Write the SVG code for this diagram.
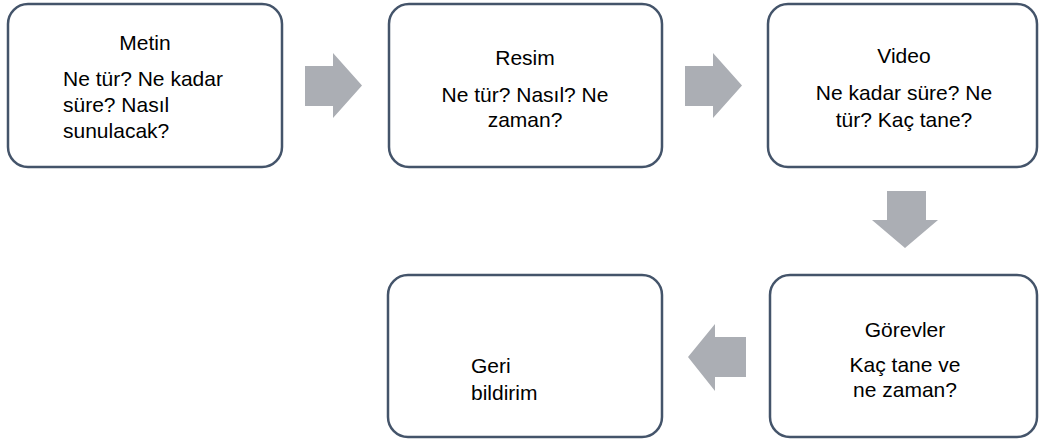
<svg xmlns="http://www.w3.org/2000/svg" width="1039" height="443" viewBox="0 0 1039 443">
<style>
.box{fill:#ffffff;stroke:#44546A;stroke-width:2.5}
.arr{fill:#ABAEB4}
text{font-family:"Liberation Sans",Arial,sans-serif;font-size:21px;fill:#000000}
.c{text-anchor:middle}
</style>
<rect width="1039" height="443" fill="#ffffff"/>
<g id="connectors">
<polygon class="arr" points="305,66 333,66 333,53 362,85.5 333,118 333,106 305,106"/>
<polygon class="arr" points="685,66 713,66 713,53 742,85.5 713,118 713,106 685,106"/>
<polygon class="arr" points="887,191 926,191 926,220 938,220 905,248 872,220 887,220"/>
<polygon class="arr" points="746,337 715,337 715,324 688,357 715,391 715,377 746,377"/>
</g>
<g id="metin">
<rect class="box" x="8" y="4" width="274" height="163" rx="20"/>
<text class="c" x="145" y="50">Metin</text>
<text x="63" y="86">Ne tür? Ne kadar</text>
<text x="63" y="112">süre? Nasıl</text>
<text x="63" y="138">sunulacak?</text>
</g>
<g id="resim">
<rect class="box" x="389" y="4" width="273" height="163" rx="20"/>
<text class="c" x="525" y="65">Resim</text>
<text class="c" x="525" y="102">Ne tür? Nasıl? Ne</text>
<text class="c" x="525" y="127">zaman?</text>
</g>
<g id="video">
<rect class="box" x="768" y="4" width="269" height="163" rx="20"/>
<text class="c" x="904" y="63">Video</text>
<text class="c" x="904" y="100">Ne kadar süre? Ne</text>
<text class="c" x="904" y="127">tür? Kaç tane?</text>
</g>
<g id="gorevler">
<rect class="box" x="770" y="275" width="267" height="162" rx="20"/>
<text class="c" x="905" y="337">Görevler</text>
<text class="c" x="905" y="372">Kaç tane ve</text>
<text class="c" x="905" y="397">ne zaman?</text>
</g>
<g id="geri-bildirim">
<rect class="box" x="388" y="275" width="274" height="162" rx="20"/>
<text x="471" y="373">Geri</text>
<text x="471" y="400">bildirim</text>
</g>
</svg>
